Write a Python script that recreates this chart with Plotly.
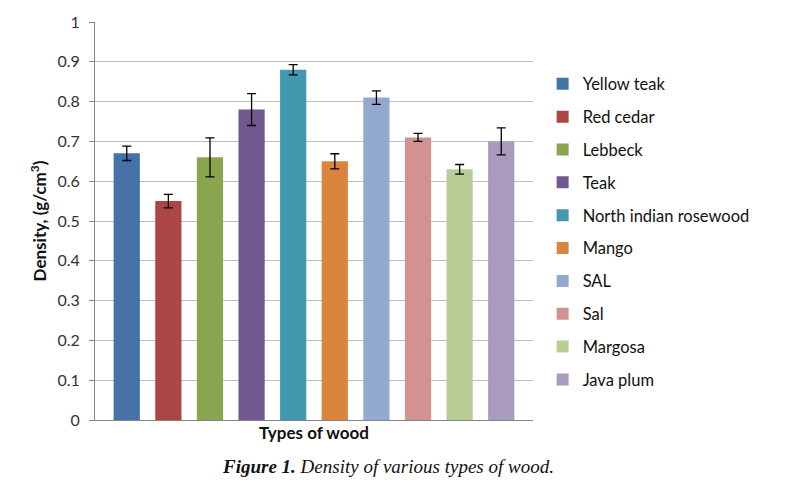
import plotly.graph_objects as go

woods = ["Yellow teak", "Red cedar", "Lebbeck", "Teak", "North indian rosewood",
         "Mango", "SAL", "Sal", "Margosa", "Java plum"]
density = [0.67, 0.55, 0.66, 0.78, 0.88, 0.65, 0.81, 0.71, 0.63, 0.70]
errors = [0.018, 0.017, 0.049, 0.040, 0.013, 0.019, 0.017, 0.010, 0.012, 0.034]
colors = ["#4572A7", "#AA4643", "#89A54E", "#71588F", "#4198AF",
          "#DB843D", "#93A9CF", "#D19392", "#B9CD96", "#A99BBD"]
category = ["Types of wood"]

fig = go.Figure()
for name, val, err, col in zip(woods, density, errors, colors):
    fig.add_trace(go.Bar(
        x=category, y=[val], name=name, legendgroup=name,
        marker=dict(color=col, line=dict(width=0)),
        error_y=dict(type="data", array=[err], visible=True,
                     color="black", thickness=1.3, width=4.5),
    ))

fig.update_layout(
    width=797, height=486,
    margin=dict(l=95, r=264, t=17, b=66),
    paper_bgcolor="white", plot_bgcolor="white",
    barmode="group", bargap=0.05, bargroupgap=0.37,
    font=dict(family="Lato, 'Open Sans', sans-serif", size=16, color="#222"),
    showlegend=True,
    legend=dict(x=1.022, y=0.888, xanchor="left", yanchor="top",
                font=dict(size=16.5, color="#111"), tracegroupgap=8.4,
                itemwidth=30, bgcolor="rgba(0,0,0,0)"),
    xaxis=dict(showticklabels=False, showline=True, linecolor="#868686",
               linewidth=1, ticks="",
               title=dict(text="<b>Types of wood</b>", standoff=7,
                          font=dict(size=17, color="#111"))),
    yaxis=dict(range=[0, 1], dtick=0.1, tick0=0, showgrid=True,
               gridcolor="#BFBFBF", gridwidth=1, showline=True,
               linecolor="#868686", linewidth=1, ticks="outside",
               ticklen=5, tickcolor="#868686", zeroline=False,
               ticklabelstandoff=6,
               tickfont=dict(size=16, color="#333"),
               title=dict(text="<b>Density, (g/cm<sup>3</sup>)</b>", standoff=6,
                          font=dict(size=17, color="#111"))),
    annotations=[dict(
        text="<b><i>Figure 1.</i></b><i> Density of various types of wood.</i>",
        xref="x domain", yref="y domain", x=0.67, y=-0.118,
        xanchor="center", yanchor="middle", showarrow=False,
        font=dict(family="'Liberation Serif', 'DejaVu Serif', serif", size=19, color="#111"))],
)
fig.write_html("out.html", config={"displayModeBar": False},
               post_script="document.body.style.margin='0';")
